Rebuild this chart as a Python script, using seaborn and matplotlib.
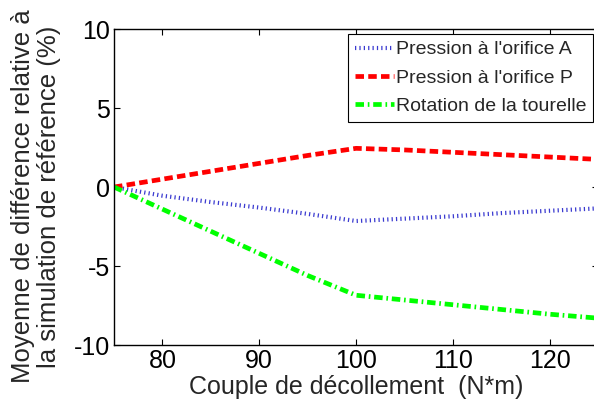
import matplotlib
matplotlib.use('Agg')
import matplotlib.pyplot as plt
import seaborn as sns
import pandas as pd

# Data
couple = [75, 80, 85, 90, 95, 100, 105, 110, 115, 120, 125]
pression_a = [0.0, -0.55, -0.95, -1.3, -1.7, -2.15, -2.0, -1.85, -1.65, -1.5, -1.35]
pression_p = [0.0, 0.5, 1.0, 1.5, 2.0, 2.45, 2.35, 2.2, 2.05, 1.9, 1.75]
rotation = [0.0, -1.4, -2.8, -4.2, -5.6, -6.85, -7.15, -7.45, -7.75, -8.05, -8.3]

series = {
    "Pression à l'orifice A": pression_a,
    "Pression à l'orifice P": pression_p,
    "Rotation de la tourelle": rotation,
}
styles = {
    "Pression à l'orifice A": dict(color='#3a3ad0', linestyle=(0, (0.3, 0.75)), linewidth=3.0),
    "Pression à l'orifice P": dict(color='#ff0000', linestyle=(0, (1.8, 0.9)), linewidth=3.4),
    "Rotation de la tourelle": dict(color='#00ff00', linestyle=(0, (1.8, 0.8, 0.35, 0.8)), linewidth=3.4),
}

sns.set_style('ticks')
plt.rcParams['font.family'] = ['Liberation Sans', 'DejaVu Sans']
plt.rcParams['axes.unicode_minus'] = False

fig = plt.figure(figsize=(5.94, 4.13), dpi=100)
ax = fig.add_axes([0.192, 0.1646, 0.815, 0.765])

for name, vals in series.items():
    df = pd.DataFrame({'x': couple, 'y': vals})
    sns.lineplot(data=df, x='x', y='y', ax=ax, label=name, **styles[name])

ax.set_xlim(75, 125)
ax.set_ylim(-10, 10)
ax.set_xticks([80, 90, 100, 110, 120])
ax.set_yticks([-10, -5, 0, 5, 10])
ax.tick_params(direction='in', labelsize=18, length=4, width=0.8, pad=3,
               top=True, right=True, colors='black')
for s in ax.spines.values():
    s.set_linewidth(1.0)
    s.set_color('black')

ax.set_xlabel('Couple de décollement  (N*m)', fontsize=18, labelpad=1)
ax.set_ylabel('Moyenne de différence relative à\nla simulation de référence (%)', fontsize=18.5,
              linespacing=1.1)
ax.yaxis.set_label_coords(-0.11, 0.47)

leg = ax.legend(loc='upper right', fontsize=14, frameon=True, fancybox=False,
                handlelength=2.0, handletextpad=0.1, borderpad=0.35, labelspacing=0.55,
                borderaxespad=0.25)
leg.get_frame().set_edgecolor('black')
leg.get_frame().set_linewidth(0.8)
leg.get_frame().set_alpha(1.0)

fig.savefig('out.png', dpi=100)
plt.close(fig)
